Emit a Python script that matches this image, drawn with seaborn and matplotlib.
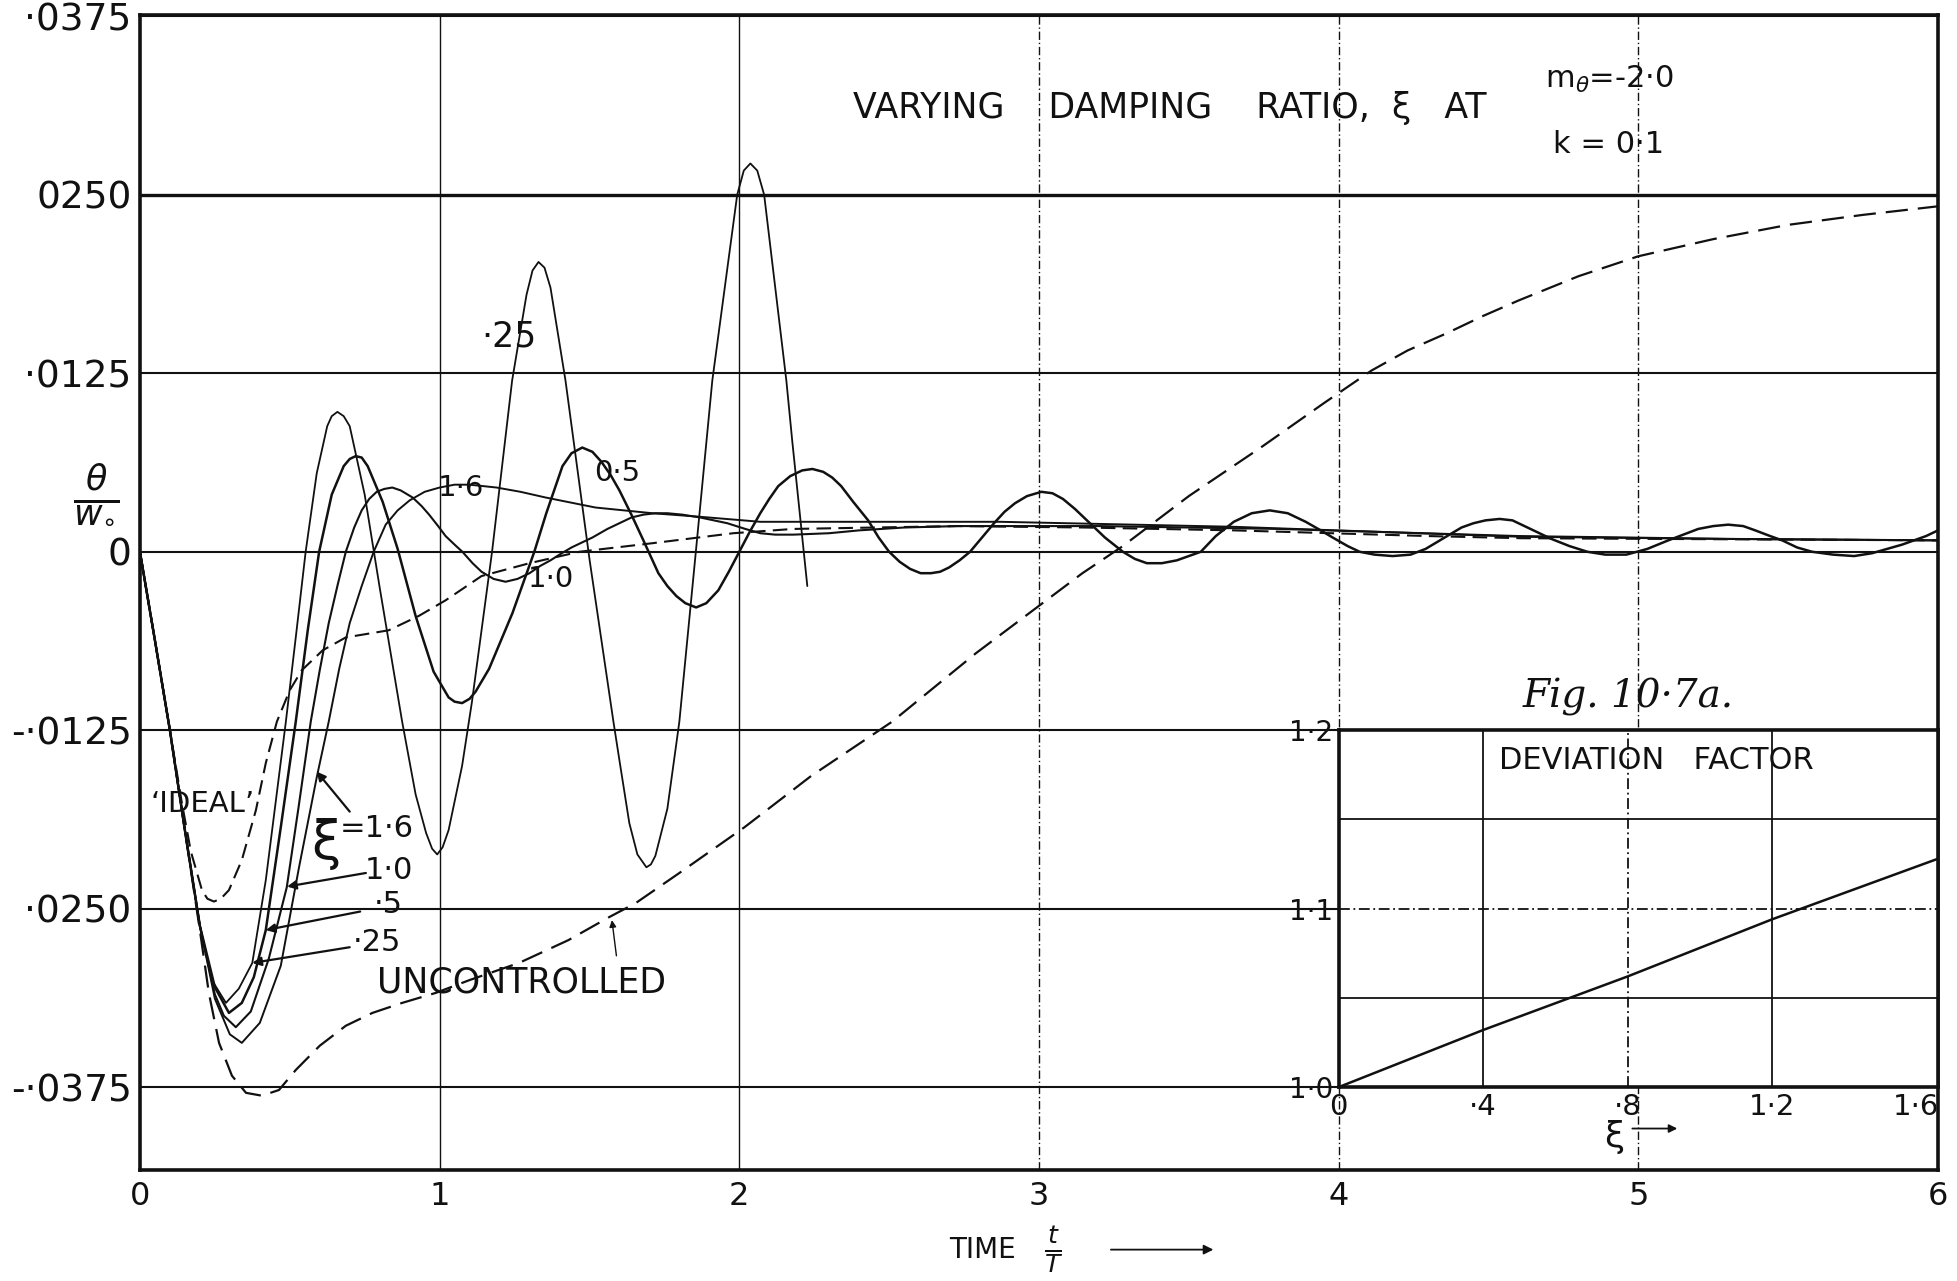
import matplotlib
matplotlib.use("Agg")
import matplotlib.pyplot as plt
import pandas as pd
import seaborn as sns

# Pitch response theta/w0 against time t/T for several damping ratios xi
XI_025 = [
    (0.0, 0.0), (0.05, -0.0062), (0.10, -0.0125), (0.15, -0.0195), (0.20, -0.0262), (0.24, -0.0300),
    (0.287, -0.0316), (0.33, -0.0306), (0.375, -0.0288), (0.42, -0.0230), (0.487, -0.0119), (0.52, -0.0060),
    (0.553, 0.0), (0.59, 0.0055), (0.625, 0.0088), (0.64, 0.0095), (0.659, 0.0098), (0.68, 0.0095),
    (0.70, 0.0088), (0.75, 0.0040), (0.80, -0.0025), (0.875, -0.0119), (0.92, -0.0170), (0.955, -0.0197),
    (0.975, -0.0208), (0.992, -0.0212), (1.01, -0.0207), (1.03, -0.0195), (1.075, -0.0150), (1.108, -0.0105),
    (1.175, 0.0), (1.242, 0.0120), (1.29, 0.0180), (1.31, 0.0197), (1.33, 0.0203), (1.35, 0.0199),
    (1.37, 0.0185), (1.42, 0.0120), (1.50, -0.0005), (1.58, -0.0119), (1.60, -0.0146), (1.633, -0.0190),
    (1.66, -0.0212), (1.69, -0.0221), (1.705, -0.0219), (1.72, -0.0213), (1.76, -0.0180), (1.80, -0.0119),
    (1.855, 0.0), (1.91, 0.0120), (1.993, 0.0250), (2.015, 0.0267), (2.037, 0.0272), (2.06, 0.0267),
    (2.083, 0.0250), (2.157, 0.0120), (2.177, 0.0077), (2.227, -0.0024),
]

XI_050 = [
    (0.0, 0.0), (0.05, -0.0062), (0.10, -0.0125), (0.15, -0.0195), (0.20, -0.0262), (0.25, -0.0305),
    (0.297, -0.0323), (0.34, -0.0316), (0.38, -0.0298), (0.42, -0.0265), (0.47, -0.0193), (0.52, -0.0119),
    (0.56, -0.0055), (0.598, 0.0), (0.64, 0.0040), (0.68, 0.0060), (0.70, 0.0065), (0.72, 0.0067),
    (0.74, 0.0066), (0.76, 0.0060), (0.81, 0.0035), (0.86, 0.0002), (0.92, -0.0045), (0.98, -0.0084),
    (1.03, -0.0102), (1.05, -0.0105), (1.075, -0.0106), (1.10, -0.0103), (1.12, -0.0098), (1.165, -0.0082),
    (1.243, -0.0043), (1.316, 0.0), (1.356, 0.0027), (1.41, 0.0060), (1.44, 0.0069), (1.476, 0.0073),
    (1.51, 0.0070), (1.54, 0.0063), (1.57, 0.0054), (1.60, 0.0043), (1.64, 0.0026), (1.68, 0.0008),
    (1.73, -0.0015), (1.76, -0.0024), (1.79, -0.0031), (1.82, -0.0036), (1.856, -0.0039), (1.89, -0.0036),
    (1.93, -0.0027), (1.965, -0.0014), (2.0, 0.0), (2.035, 0.0014), (2.07, 0.0027), (2.10, 0.0037),
    (2.13, 0.0046), (2.17, 0.0053), (2.21, 0.0057), (2.244, 0.0058), (2.28, 0.0056), (2.31, 0.0052),
    (2.34, 0.0046), (2.38, 0.0035), (2.43, 0.0022), (2.465, 0.0010), (2.50, 0.0), (2.535, -0.0007),
    (2.57, -0.0012), (2.605, -0.0015), (2.64, -0.0015), (2.67, -0.0014), (2.70, -0.0011), (2.735, -0.0006),
    (2.77, 0.0), (2.81, 0.0010), (2.85, 0.0020), (2.885, 0.0028), (2.92, 0.0034), (2.96, 0.0039),
    (3.008, 0.0042), (3.045, 0.0041), (3.08, 0.0037), (3.12, 0.0030), (3.16, 0.0022), (3.22, 0.0010),
    (3.28, 0.0), (3.32, -0.0005), (3.36, -0.0008), (3.41, -0.0008), (3.46, -0.0006), (3.50, -0.0003),
    (3.54, 0.0), (3.59, 0.0011), (3.65, 0.0021), (3.71, 0.0027), (3.77, 0.0029), (3.83, 0.0027),
    (3.89, 0.0021), (3.94, 0.0015), (3.98, 0.0010), (4.03, 0.0004), (4.07, 0.0), (4.12, -0.0002),
    (4.18, -0.0003), (4.24, -0.0002), (4.29, 0.0002), (4.33, 0.0007), (4.37, 0.0012), (4.41, 0.0017),
    (4.45, 0.0020), (4.49, 0.0022), (4.537, 0.0023), (4.58, 0.0022), (4.62, 0.0018), (4.66, 0.0014),
    (4.71, 0.0009), (4.77, 0.0004), (4.83, 0.0), (4.89, -0.0002), (4.96, -0.0002), (5.03, 0.0002),
    (5.10, 0.0008), (5.15, 0.0012), (5.20, 0.0016), (5.25, 0.0018), (5.30, 0.0019), (5.35, 0.0018),
    (5.39, 0.0015), (5.44, 0.0011), (5.48, 0.0008), (5.53, 0.0003), (5.58, 0.0), (5.65, -0.0002),
    (5.72, -0.0003), (5.78, -0.0001), (5.83, 0.0002), (5.88, 0.0005), (5.92, 0.0008), (5.96, 0.0011),
    (6.0, 0.0015),
]

XI_100 = [
    (0.0, 0.0), (0.05, -0.0062), (0.10, -0.0125), (0.15, -0.0195), (0.20, -0.0262), (0.25, -0.0310),
    (0.28, -0.0325), (0.32, -0.0333), (0.37, -0.0322), (0.43, -0.0285), (0.49, -0.0235), (0.53, -0.0178),
    (0.57, -0.0119), (0.60, -0.0083), (0.63, -0.0050), (0.66, -0.0023), (0.687, 0.0), (0.715, 0.0017),
    (0.74, 0.0029), (0.765, 0.0037), (0.79, 0.0042), (0.815, 0.0044), (0.842, 0.0045), (0.87, 0.0043),
    (0.91, 0.0038), (0.94, 0.0032), (0.965, 0.0026), (0.995, 0.0018), (1.02, 0.0011), (1.05, 0.0005),
    (1.076, 0.0), (1.11, -0.0008), (1.14, -0.0014), (1.18, -0.0019), (1.22, -0.0021), (1.26, -0.0019),
    (1.30, -0.0015), (1.335, -0.0010), (1.37, -0.0006), (1.40, -0.0002), (1.44, 0.0003), (1.51, 0.0010),
    (1.56, 0.0016), (1.60, 0.0020), (1.64, 0.0024), (1.68, 0.0026), (1.72, 0.0027), (1.76, 0.0027),
    (1.81, 0.0026), (1.87, 0.0024), (1.96, 0.0020), (2.02, 0.0016), (2.07, 0.0013), (2.12, 0.0012),
    (2.18, 0.0012), (2.30, 0.0013), (2.40, 0.0015), (2.55, 0.0017), (2.73, 0.0018), (3.20, 0.0018),
    (3.80, 0.0016), (4.60, 0.0011), (5.30, 0.0009), (6.0, 0.0008),
]

XI_160 = [
    (0.0, 0.0), (0.05, -0.0062), (0.10, -0.0125), (0.15, -0.0195), (0.20, -0.0262), (0.25, -0.0313),
    (0.30, -0.0338), (0.34, -0.0344), (0.40, -0.0330), (0.47, -0.0290), (0.53, -0.0222), (0.59, -0.0158),
    (0.63, -0.0119), (0.665, -0.0082), (0.70, -0.0050), (0.74, -0.0024), (0.78, 0.0), (0.82, 0.0019),
    (0.86, 0.0029), (0.90, 0.0036), (0.95, 0.0042), (1.00, 0.0045), (1.05, 0.0047), (1.10, 0.0047),
    (1.19, 0.0045), (1.27, 0.0042), (1.354, 0.0038), (1.52, 0.0031), (1.71, 0.0027), (1.87, 0.00245),
    (2.07, 0.0021), (2.50, 0.0021), (2.87, 0.0021), (3.65, 0.00175), (4.61, 0.00105), (5.30, 0.0009),
    (6.0, 0.0008),
]

IDEAL = [
    (0.0, 0.0), (0.05, -0.0062), (0.10, -0.0125), (0.14, -0.0176), (0.17, -0.0210), (0.207, -0.0237),
    (0.225, -0.0243), (0.247, -0.0245), (0.27, -0.0243), (0.297, -0.0237), (0.34, -0.0216), (0.387, -0.0181),
    (0.42, -0.0148), (0.457, -0.0119), (0.50, -0.0097), (0.54, -0.0083), (0.61, -0.0069), (0.687, -0.0060),
    (0.83, -0.0055), (0.93, -0.0045), (1.02, -0.0034), (1.14, -0.0017), (1.30, -0.0008), (1.466, 0.0),
    (1.71, 0.0006), (1.98, 0.0013), (2.18, 0.0016), (2.73, 0.0018), (3.15, 0.0017), (3.65, 0.0015),
    (4.30, 0.0011), (4.61, 0.00095), (6.0, 0.0008),
]

UNCONTROLLED = [
    (0.0, 0.0), (0.05, -0.0062), (0.10, -0.0125), (0.15, -0.0195), (0.20, -0.0265), (0.23, -0.0309),
    (0.264, -0.0344), (0.307, -0.0367), (0.354, -0.0379), (0.407, -0.0381), (0.464, -0.0377), (0.52, -0.0363),
    (0.60, -0.0346), (0.687, -0.0332), (0.776, -0.0323), (0.875, -0.0316), (0.987, -0.0309), (1.10, -0.0300),
    (1.265, -0.0288), (1.43, -0.0272), (1.565, -0.0256), (1.655, -0.0246), (1.80, -0.0225), (2.017, -0.0193),
    (2.24, -0.0157), (2.51, -0.0119), (2.79, -0.0071), (3.145, -0.0015), (3.28, 0.0004), (3.50, 0.0039),
    (3.74, 0.0073), (3.95, 0.0104), (4.11, 0.0127), (4.23, 0.0141), (4.36, 0.0153), (4.48, 0.0165),
    (4.60, 0.0176), (4.80, 0.0193), (5.0, 0.0207), (5.25, 0.0219), (5.5, 0.0229), (5.75, 0.0236),
    (6.0, 0.0242),
]

# Deviation factor against damping ratio (inset)
DEV_XI = [0.0, 0.4, 0.8, 1.2, 1.66]
DEV_FACTOR = [1.0, 1.032, 1.062, 1.094, 1.128]

TIME_TICKS = [0, 1, 2, 3, 4, 5, 6]
TIME_LABELS = ["0", "1", "2", "3", "4", "5", "6"]
THETA_TICKS = [-0.0375, -0.025, -0.0125, 0.0, 0.0125, 0.025, 0.0375]
THETA_LABELS = ["-·0375", "·0250", "-·0125", "0", "·0125", "0250", "·0375"]
DEV_XTICKS = [0.0, 0.4, 0.8, 1.2, 1.6]
DEV_XLABELS = ["0", "·4", "·8", "1·2", "1·6"]
DEV_YTICKS = [1.0, 1.1, 1.2]
DEV_YLABELS = ["1·0", "1·1", "1·2"]

sns.set_theme(style="white")
plt.rcParams["font.family"] = ["DejaVu Sans"]
plt.rcParams["mathtext.fontset"] = "dejavusans"

INK = "#111111"
DASHDOT = (0, (6, 2, 1, 2))

fig = plt.figure(figsize=(19.57, 12.81), dpi=100)
ax = fig.add_axes([0.0715, 0.0867, 0.9188, 0.9016])
ax.set_xlim(0, 6.0)
ax.set_ylim(-0.0433, 0.0376)


def curve(points, target, lw, dash=None, z=3):
    df = pd.DataFrame(points, columns=["t", "theta"])
    sns.lineplot(data=df, x="t", y="theta", ax=target, color=INK, lw=lw,
                 estimator=None, sort=False, zorder=z)
    line = target.lines[-1]
    line.set_solid_joinstyle("round")
    if dash is not None:
        line.set_linestyle((0, dash))
    return line


# Grid: heavy horizontal rules, light vertical rules
for v in THETA_TICKS:
    ax.axhline(v, color=INK, lw=2.4 if v == 0.025 else 1.5, zorder=1)
for v in TIME_TICKS[1:-1]:
    ax.axvline(v, color=INK, lw=1.0, ls="-" if v in (1, 2) else DASHDOT, zorder=1)

curve(XI_025, ax, 1.3)
curve(XI_050, ax, 1.8)
curve(XI_100, ax, 1.5)
curve(XI_160, ax, 1.4)
curve(IDEAL, ax, 1.5, dash=(7, 3.5))
curve(UNCONTROLLED, ax, 1.6, dash=(10, 4.5))

ax.set_xticks(TIME_TICKS)
ax.set_xticklabels(TIME_LABELS, fontsize=23)
ax.set_yticks(THETA_TICKS)
ax.set_yticklabels(THETA_LABELS, fontsize=27)
ax.tick_params(axis="both", length=0, colors=INK)
ax.tick_params(axis="x", pad=8)
ax.tick_params(axis="y", pad=6)
ax.set_xlabel("")
ax.set_ylabel("")
for s in ax.spines.values():
    s.set_color(INK)
    s.set_linewidth(2.6)
    s.set_visible(True)

# Axis titles
ax.text(-0.024, 0.585, r"$\frac{\theta}{w_{\circ}}$", transform=ax.transAxes,
        fontsize=36, ha="center", va="center", color=INK)
ax.text(0.45, -0.069, "TIME", transform=ax.transAxes, fontsize=20,
        ha="left", va="center", color=INK)
ax.text(0.508, -0.069, r"$\frac{t}{T}$", transform=ax.transAxes, fontsize=26,
        ha="center", va="center", color=INK)
ax.annotate("", xy=(0.597, -0.069), xytext=(0.54, -0.069), xycoords="axes fraction",
            textcoords="axes fraction",
            arrowprops=dict(arrowstyle="-|>", color=INK, lw=1.3, mutation_scale=14,
                            shrinkA=0, shrinkB=0), annotation_clip=False)

# Heading
ax.text(3.436, 0.0311, "VARYING    DAMPING    RATIO,  ξ   AT", fontsize=25,
        ha="center", va="center", color=INK)
ax.text(4.905, 0.0331, r"m$_{\theta}$=-2·0", fontsize=22, ha="center", va="center", color=INK)
ax.text(4.90, 0.0285, "k = 0·1", fontsize=22, ha="center", va="center", color=INK)

# Curve labels
ax.text(1.23, 0.0151, "·25", fontsize=25, ha="center", va="center", color=INK)
ax.text(1.07, 0.0045, "1·6", fontsize=21, ha="center", va="center", color=INK)
ax.text(1.593, 0.0055, "0·5", fontsize=21, ha="center", va="center", color=INK)
ax.text(1.372, -0.0019, "1·0", fontsize=21, ha="center", va="center", color=INK)
ax.text(0.21, -0.0177, "‘IDEAL’", fontsize=21, ha="center", va="center", color=INK)
ax.text(1.272, -0.0302, "UNCONTROLLED", fontsize=25, ha="center", va="center", color=INK)
ax.text(0.62, -0.0205, "ξ", fontsize=38, ha="center", va="center", color=INK)
ax.text(0.79, -0.0194, "=1·6", fontsize=22, ha="center", va="center", color=INK)
ax.text(0.83, -0.0223, "1·0", fontsize=22, ha="center", va="center", color=INK)
ax.text(0.83, -0.0247, "·5", fontsize=22, ha="center", va="center", color=INK)
ax.text(0.79, -0.0274, "·25", fontsize=22, ha="center", va="center", color=INK)

arrow_kw = dict(arrowstyle="-|>", color=INK, lw=1.6, mutation_scale=13, shrinkA=0, shrinkB=0)
ax.annotate("", xy=(0.59, -0.0154), xytext=(0.70, -0.0182), arrowprops=arrow_kw)
ax.annotate("", xy=(0.491, -0.02345), xytext=(0.754, -0.0225), arrowprops=arrow_kw)
ax.annotate("", xy=(0.42, -0.0265), xytext=(0.735, -0.0252), arrowprops=arrow_kw)
ax.annotate("", xy=(0.375, -0.0288), xytext=(0.70, -0.0277), arrowprops=arrow_kw)
ax.annotate("", xy=(1.575, -0.0258), xytext=(1.59, -0.0283),
            arrowprops=dict(arrowstyle="-|>", color=INK, lw=1.0, mutation_scale=10,
                            shrinkA=0, shrinkB=0))

ax.text(4.965, -0.0102, "Fig. 10·7a.", fontsize=28, style="italic",
        family="DejaVu Serif", ha="center", va="center", color=INK)

# Inset: deviation factor
ins = ax.inset_axes([4.0, -0.0375, 2.0, 0.025], transform=ax.transData, zorder=5)
ins.set_facecolor("white")
ins.set_xlim(0, 1.66)
ins.set_ylim(1.0, 1.2)
for v, st in zip([0.4, 0.8, 1.2], ["-", DASHDOT, "-"]):
    ins.axvline(v, color=INK, lw=1.3, ls=st, zorder=1)
for v, st in zip([1.05, 1.1, 1.15], ["-", DASHDOT, "-"]):
    ins.axhline(v, color=INK, lw=1.3, ls=st, zorder=1)
dev = pd.DataFrame({"xi": DEV_XI, "factor": DEV_FACTOR})
sns.lineplot(data=dev, x="xi", y="factor", ax=ins, color=INK, lw=1.8, estimator=None, zorder=3)
ins.set_xticks(DEV_XTICKS)
ins.set_xticklabels(DEV_XLABELS, fontsize=21)
ins.set_yticks(DEV_YTICKS)
ins.set_yticklabels(DEV_YLABELS, fontsize=20)
ins.tick_params(axis="both", length=0, colors=INK, pad=4)
ins.set_xlabel("")
ins.set_ylabel("")
for s in ins.spines.values():
    s.set_color(INK)
    s.set_linewidth(2.6)
    s.set_visible(True)
ins.text(0.88, 1.183, "DEVIATION   FACTOR", fontsize=22, ha="center", va="center", color=INK)

ax.text(4.92, -0.0410, "ξ", fontsize=26, ha="center", va="center", color=INK)
ax.annotate("", xy=(5.13, -0.0404), xytext=(4.98, -0.0404),
            arrowprops=dict(arrowstyle="-|>", color=INK, lw=1.3, mutation_scale=12,
                            shrinkA=0, shrinkB=0))

fig.savefig("out.png", dpi=100, facecolor="white")
